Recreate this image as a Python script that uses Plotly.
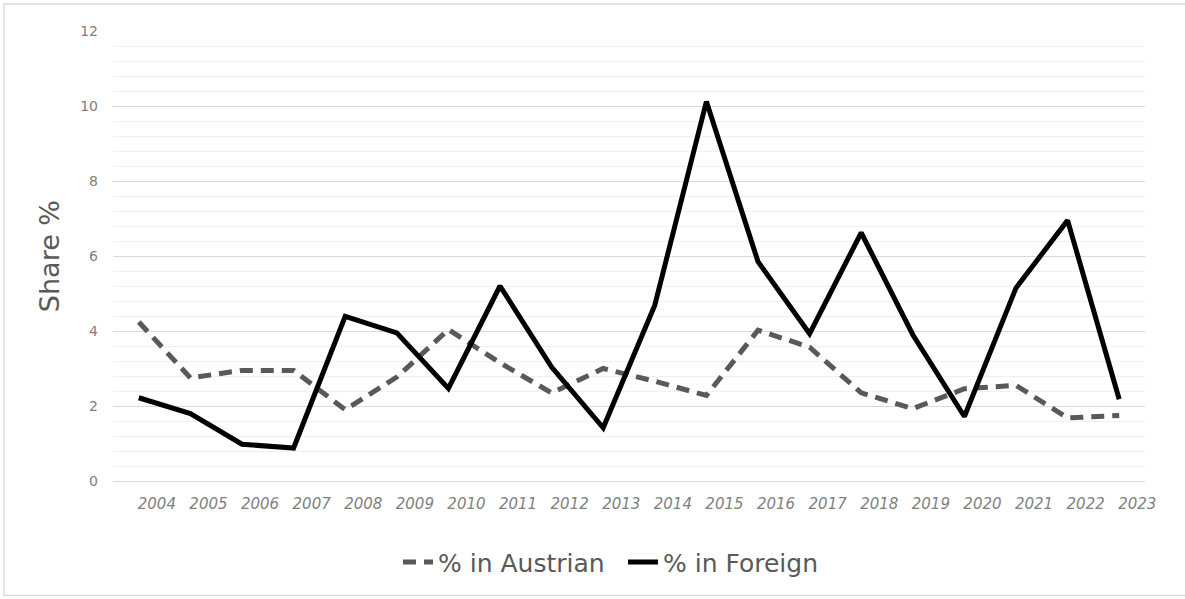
import plotly.graph_objects as go

years = [str(y) for y in range(2004, 2024)]
austrian = [4.24, 2.75, 2.95, 2.95, 1.9, 2.77, 4.04, 3.15, 2.35, 3.0,
            2.66, 2.28, 4.02, 3.57, 2.35, 1.93, 2.46, 2.55, 1.68, 1.75]
foreign = [2.22, 1.8, 0.98, 0.88, 4.39, 3.95, 2.47, 5.2, 3.04, 1.42,
           4.69, 10.12, 5.85, 3.93, 6.62, 3.9, 1.72, 5.15, 6.95, 2.18]

W, H = 1185, 599
L, R, T, B = 113, 1145, 31, 480.7  # plot area pixels
pw, ph = R - L, B - T


def px(x):
    return (x - L) / pw


def py(y):
    return (B - y) / ph


xs = list(range(len(years)))
font = "DejaVu Sans"

fig = go.Figure()
fig.add_trace(go.Scatter(x=xs, y=austrian, mode="lines", name="% in Austrian",
                         line=dict(color="#595959", width=5, dash="13px,8px")))
fig.add_trace(go.Scatter(x=xs, y=foreign, mode="lines", name="% in Foreign",
                         line=dict(color="#000000", width=5)))

fig.update_layout(
    width=W, height=H,
    margin=dict(l=L, r=W - R, t=T, b=H - B, autoexpand=False),
    plot_bgcolor="white", paper_bgcolor="white",
    font=dict(family=font, color="#7f7f7f"),
    showlegend=True,
    legend=dict(orientation="h", x=px(398), xanchor="left", y=py(562), yanchor="middle",
                font=dict(size=25, color="#595959", family=font),
                itemwidth=30, entrywidth=180, entrywidthmode="pixels",
                traceorder="normal"),
    xaxis=dict(range=[-0.5, len(years) - 0.5], showgrid=False, zeroline=False, showline=False,
               tickvals=[i + 0.35 for i in xs], ticktext=["<i>%s</i>" % y for y in years],
               tickangle=0, tickfont=dict(size=15, color="#7f7f7f", family=font),
               ticks="", ticklabelstandoff=12),
    yaxis=dict(range=[0, 12], dtick=2, tick0=0, showgrid=True, gridcolor="#d9d9d9", gridwidth=1.3,
               zeroline=True, zerolinecolor="#d9d9d9", zerolinewidth=1.3, showline=False,
               ticks="", ticklabelstandoff=14,
               tickfont=dict(size=14, color="#808080", family=font),
               minor=dict(dtick=0.4, tick0=0, showgrid=True, gridcolor="#f0f0f0", gridwidth=1.3)),
)

fig.add_annotation(text="Share %", x=px(49), y=py(256), xref="paper", yref="paper",
                   xanchor="center", yanchor="middle",
                   textangle=-90, showarrow=False,
                   font=dict(size=27, color="#595959", family=font))

fig.add_shape(type="rect", xref="paper", yref="paper",
              x0=px(4), x1=px(1192), y0=py(595), y1=py(4),
              line=dict(color="#d9d9d9", width=1.3), layer="below")

fig.write_html("out.html", config={"displayModeBar": False},
               post_script="document.body.style.margin='0';")
